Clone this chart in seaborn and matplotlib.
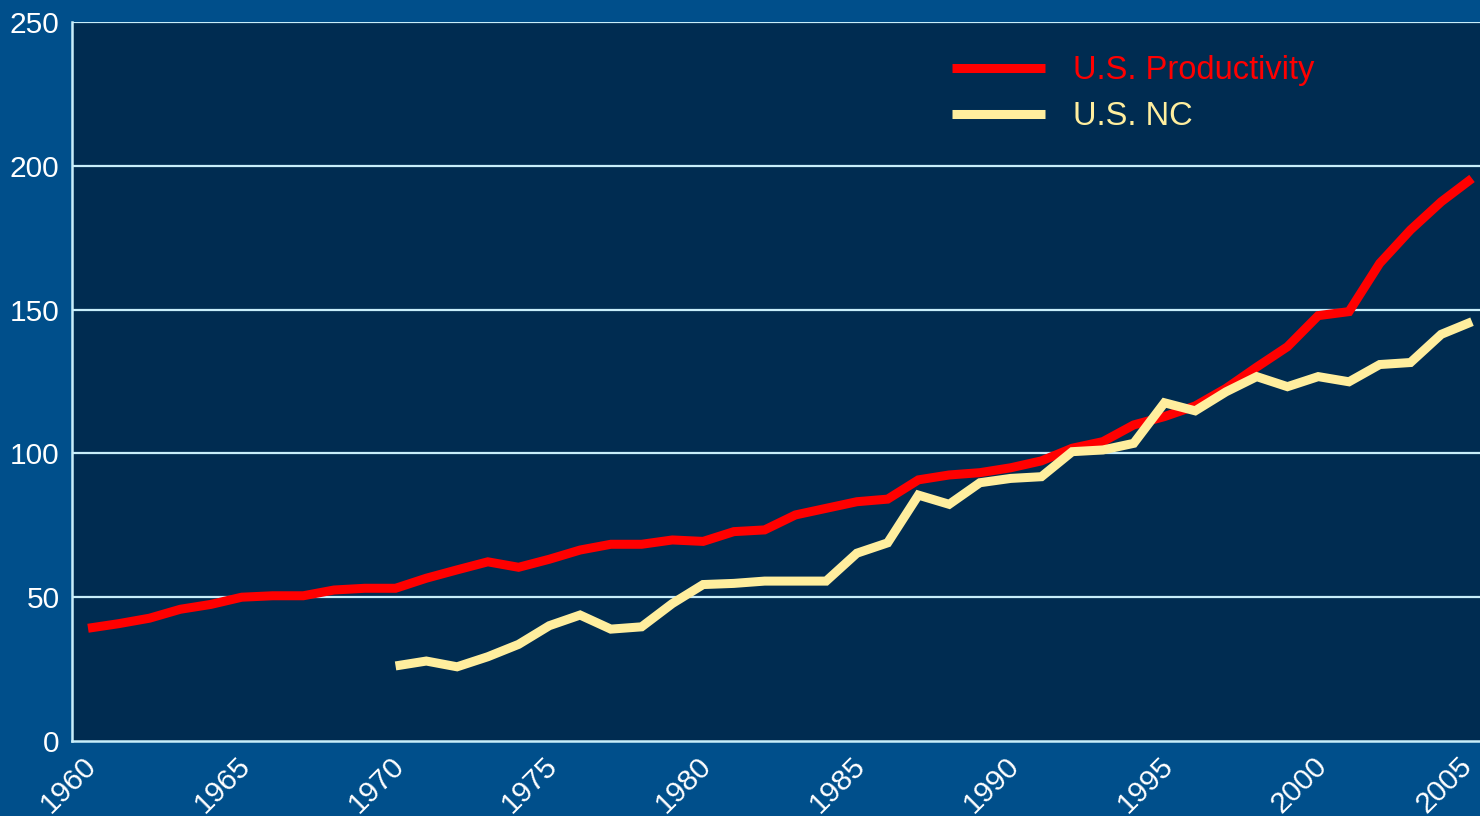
import numpy as np
import pandas as pd
import matplotlib
matplotlib.use("Agg")
import matplotlib.pyplot as plt
import matplotlib.transforms as mtransforms
from matplotlib.lines import Line2D
import seaborn as sns

# Index values by year
prod_years = list(range(1960, 2006))
productivity = [39.2, 40.8, 42.7, 45.8, 47.5, 50.0, 50.5, 50.5, 52.5, 53.1,
                53.1, 56.6, 59.5, 62.3, 60.4, 63.2, 66.4, 68.4, 68.4, 69.9,
                69.4, 72.8, 73.4, 78.6, 80.9, 83.2, 84.1, 90.8, 92.5, 93.3,
                95.0, 97.4, 101.8, 104.1, 109.9, 112.8, 116.5, 122.6, 130.0, 137.1,
                147.9, 149.3, 166.1, 177.7, 187.5, 195.6]

nc_years = list(range(1970, 2006))
nc = [26.1, 27.8, 25.8, 29.3, 33.6, 40.1, 43.8, 38.9, 39.7, 47.8,
      54.4, 54.8, 55.6, 55.6, 55.6, 65.3, 68.9, 85.5, 82.3, 89.8,
      91.3, 91.9, 100.6, 101.2, 103.5, 117.6, 114.8, 121.4, 126.7, 123.2,
      126.7, 124.9, 130.9, 131.6, 141.4, 145.8]

series_names = ["U.S. Productivity", "U.S. NC"]
x_ticks = list(range(1960, 2006, 5))
y_ticks = [0, 50, 100, 150, 200, 250]

df = pd.concat([
    pd.DataFrame({"year": prod_years, "value": productivity, "series": series_names[0]}),
    pd.DataFrame({"year": nc_years, "value": nc, "series": series_names[1]}),
], ignore_index=True)

outer_bg = "#004F8B"
plot_bg = "#002C51"
grid_col = "#C8EEFA"
colors = {series_names[0]: "#FF0000", series_names[1]: "#FFEE9E"}

sns.set_theme(style="white")
plt.rcParams["font.family"] = ["Liberation Sans", "DejaVu Sans"]

fig = plt.figure(figsize=(14.8, 8.16), dpi=100, facecolor=outer_bg)
ax = fig.add_axes([72 / 1480, 75 / 816, 1 - 72 / 1480, (741 - 22) / 816])
ax.set_facecolor(plot_bg)

sns.lineplot(data=df, x="year", y="value", hue="series", palette=colors,
             hue_order=series_names, linewidth=6.5, legend=False, ax=ax,
             solid_joinstyle="miter", solid_capstyle="butt")

ax.set_xlim(1959.48, 2005.26)
ax.set_ylim(0, 250)
ax.set_xticks(x_ticks)
ax.set_yticks(y_ticks)
ax.set_xlabel("")
ax.set_ylabel("")

for y in y_ticks[1:]:
    ax.axhline(y, color=grid_col, linewidth=1.6, zorder=0.5)

for side in ["top", "right"]:
    ax.spines[side].set_visible(False)
for side in ["left", "bottom"]:
    ax.spines[side].set_color(grid_col)
    ax.spines[side].set_linewidth(1.8)

ax.tick_params(axis="both", length=0, colors="white", labelsize=21.5)
ax.tick_params(axis="y", pad=9)
ax.tick_params(axis="x", pad=6)
labels = ax.get_xticklabels()
for i, lbl in enumerate(labels):
    # the last label is nudged left so it stays inside the figure edge
    dx = 4 if i < len(labels) - 1 else -4
    shift = mtransforms.ScaledTranslation(dx / 100, -12 / 100, fig.dpi_scale_trans)
    lbl.set_rotation(45)
    lbl.set_ha("right")
    lbl.set_va("center")
    lbl.set_rotation_mode("anchor")
    lbl.set_transform(lbl.get_transform() + shift)

handles = [Line2D([], [], color=colors[s], linewidth=6.5, solid_capstyle="butt")
           for s in series_names]
leg = ax.legend(handles, series_names, loc="upper left",
                bbox_to_anchor=((923 - 72) / 1408, 1 - (26 - 22) / 719),
                frameon=False, fontsize=23.5, handlelength=2.85,
                handletextpad=0.85, labelspacing=0.45)
for txt, s in zip(leg.get_texts(), series_names):
    txt.set_color(colors[s])

fig.savefig("out.png", dpi=100, facecolor=outer_bg)
